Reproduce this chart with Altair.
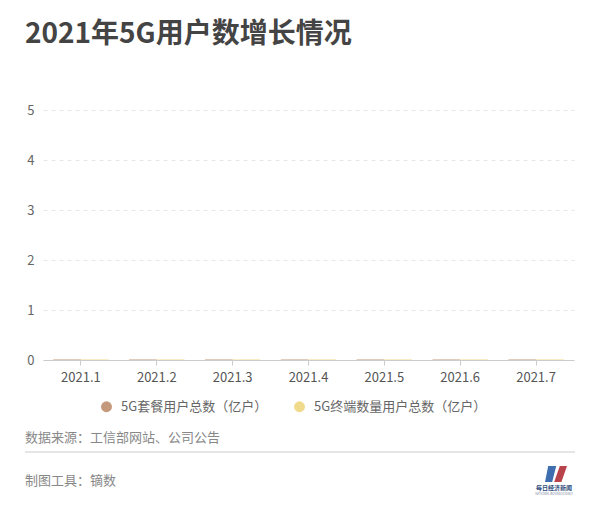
import altair as alt
import pandas as pd

# ---- data (bars sit on the baseline in the snapshot) ----
months = ["2021.1", "2021.2", "2021.3", "2021.4", "2021.5", "2021.6", "2021.7"]
series = ["5G套餐用户总数（亿户）", "5G终端数量用户总数（亿户）"]
package_users = [0.01, 0.01, 0.01, 0.01, 0.01, 0.01, 0.01]
terminal_users = [0.01, 0.01, 0.01, 0.01, 0.01, 0.01, 0.01]
y_ticks = [0, 1, 2, 3, 4, 5]
colors = ["#C4987A", "#F0DA8C"]

title_text = "2021年5G用户数增长情况"
source_text = "数据来源：工信部网站、公司公告"
tool_text = "制图工具：镝数"
logo_text = "每日经济新闻"
logo_sub = "NATIONAL BUSINESS DAILY"

rows = []
for m, a, b in zip(months, package_users, terminal_users):
    rows.append({"month": m, "series": series[0], "value": a})
    rows.append({"month": m, "series": series[1], "value": b})
df = pd.DataFrame(rows)

FONT = "Noto Sans CJK SC"

bars = alt.Chart(df).mark_bar().encode(
    x=alt.X(
        "month:N",
        sort=months,
        scale=alt.Scale(paddingInner=0.27, paddingOuter=0.135),
        axis=alt.Axis(
            title=None, labelAngle=0, labelFontSize=13, labelColor="#555555",
            labelPadding=6, tickSize=5, tickColor="#cccccc", domainColor="#cccccc",
            grid=False, labelFont=FONT,
        ),
    ),
    xOffset=alt.XOffset("series:N", sort=series),
    y=alt.Y(
        "value:Q",
        scale=alt.Scale(domain=[0, 5]),
        axis=alt.Axis(
            title=None, values=y_ticks, domain=False, ticks=False, labelPadding=9,
            labelFontSize=13, labelColor="#666666", grid=True, gridDash=[4, 4],
            gridColor="#e6e6e6", labelFont=FONT,
        ),
    ),
    color=alt.Color(
        "series:N",
        scale=alt.Scale(domain=series, range=colors),
        legend=alt.Legend(
            title=None, orient="none", direction="horizontal", legendX=57, legendY=290,
            symbolType="circle", symbolSize=120, symbolStrokeWidth=0,
            labelFontSize=13, labelColor="#666666", labelFont=FONT, columnPadding=25,
            labelLimit=400, labelOffset=8,
        ),
    ),
)

one = pd.DataFrame({"k": [0]})


def txt(s, x, y, size, color, weight="normal", align="left"):
    return alt.Chart(one).mark_text(
        text=s, fontSize=size, color=color, fontWeight=weight, align=align,
        baseline="middle", font=FONT,
    ).encode(x=alt.value(x), y=alt.value(y))


title = txt(title_text, -18, -75, 28, "#444444", weight="bold")
source = txt(source_text, -18, 328, 13, "#888888")
tool = txt(tool_text, -18, 371, 13, "#888888")
sep = alt.Chart(one).mark_rule(color="#cccccc", strokeWidth=1).encode(
    x=alt.value(-18), x2=alt.value(532), y=alt.value(342)
)

blue = alt.Chart(one).mark_point(
    shape="M-0.5,1 L-0.1,-1 L0.9,-1 L0.4,1 Z", filled=True, color="#3E6EB0",
    size=256, opacity=1,
).encode(x=alt.value(506), y=alt.value(364))
red = alt.Chart(one).mark_point(
    shape="M-0.6,1 L0.1,-1 L1,-1 L0.3,1 Z", filled=True, color="#B8434A",
    size=256, opacity=1,
).encode(x=alt.value(516), y=alt.value(364))
logo1 = txt(logo_text, 511, 378, 6, "#2A4A7A", weight="bold", align="center")
logo2 = txt(logo_sub, 511, 384, 3, "#7A8AA0", align="center")

chart = alt.layer(
    bars, sep, title, source, tool, blue, red, logo1, logo2
).properties(
    width=531, height=250,
    autosize=alt.AutoSizeParams(type="none"),
    padding={"left": 35, "top": 102, "right": 18, "bottom": 140},
).configure(font=FONT).configure_view(stroke=None, strokeWidth=0)

chart.save("out.html", embed_options={"renderer": "svg", "actions": False})
